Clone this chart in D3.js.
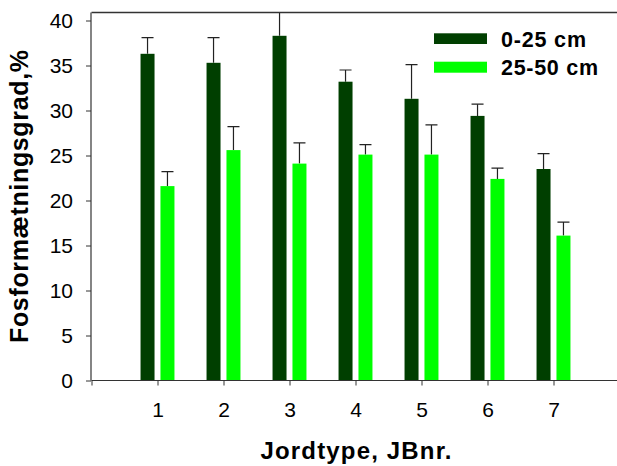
<!DOCTYPE html>
<html>
<head>
<meta charset="utf-8">
<script src="https://cdn.jsdelivr.net/npm/d3@7"></script>
<style>
  html, body { margin: 0; padding: 0; background: #fff; }
  svg { display: block; font-family: "Liberation Sans", Arial, sans-serif; }
</style>
</head>
<body>
<svg id="chart" width="617" height="466"></svg>
<script>
// Soil types (JB numbers) on the x axis
const soilTypes = [1, 2, 3, 4, 5, 6, 7];
// Phosphorus saturation degree (%) per depth layer, with standard error
const topsoil = [36.3, 35.3, 38.3, 33.2, 31.3, 29.4, 23.5];      // 0-25 cm
const topsoilErr = [1.8, 2.8, 3.2, 1.3, 3.8, 1.3, 1.7];
const subsoil = [21.6, 25.6, 24.1, 25.1, 25.1, 22.4, 16.1];      // 25-50 cm
const subsoilErr = [1.6, 2.6, 2.3, 1.1, 3.3, 1.2, 1.5];
const seriesNames = ["0-25 cm", "25-50 cm"];
const yTicks = [0, 5, 10, 15, 20, 25, 30, 35, 40];
const xTicks = [0, 1, 2, 3, 4, 5, 6, 7];

const colors = ["#003f00", "#00ff00"];
const svg = d3.select("#chart");

const x = d3.scaleLinear().domain([0, 8]).range([91.5, 619.5]);
const y = d3.scaleLinear().domain([0, 40]).range([380.5, 20.5]);
const yTop = 40.9;

const series = [
  { name: seriesNames[0], values: topsoil, err: topsoilErr, color: colors[0], offset: -0.257 },
  { name: seriesNames[1], values: subsoil, err: subsoilErr, color: colors[1], offset: 0.045 }
];
const barW = 0.212;

svg.append("defs").append("clipPath").attr("id", "plotClip")
  .append("rect")
  .attr("x", x(0)).attr("y", y(yTop))
  .attr("width", x(8) - x(0)).attr("height", y(0) - y(yTop));

const plot = svg.append("g").attr("clip-path", "url(#plotClip)");

series.forEach(s => {
  const g = plot.append("g");
  // error bars (upper side only)
  g.selectAll("line.err").data(soilTypes).join("line")
    .attr("class", "err")
    .attr("x1", d => x(d + s.offset + barW / 2))
    .attr("x2", d => x(d + s.offset + barW / 2))
    .attr("y1", (d, i) => y(s.values[i]))
    .attr("y2", (d, i) => y(s.values[i] + s.err[i]))
    .attr("stroke", "#222").attr("stroke-width", 1.2);
  g.selectAll("line.cap").data(soilTypes).join("line")
    .attr("class", "cap")
    .attr("x1", d => x(d + s.offset + barW / 2) - 6)
    .attr("x2", d => x(d + s.offset + barW / 2) + 6)
    .attr("y1", (d, i) => y(s.values[i] + s.err[i]))
    .attr("y2", (d, i) => y(s.values[i] + s.err[i]))
    .attr("stroke", "#222").attr("stroke-width", 1.2);
  g.selectAll("rect").data(soilTypes).join("rect")
    .attr("x", d => x(d + s.offset))
    .attr("width", d => x(d + s.offset + barW) - x(d + s.offset))
    .attr("y", (d, i) => y(s.values[i]))
    .attr("height", (d, i) => y(0) - y(s.values[i]))
    .attr("fill", s.color);
});

// top frame line
svg.append("line")
  .attr("x1", x(0)).attr("x2", x(8))
  .attr("y1", Math.round(y(yTop)) + 0.5).attr("y2", Math.round(y(yTop)) + 0.5)
  .attr("stroke", "#333").attr("stroke-width", 1.5);

// y axis
const yAxis = svg.append("g")
  .attr("transform", `translate(${x(0) - 0.5},0)`)
  .call(d3.axisLeft(y).tickValues(yTicks).tickSize(5).tickPadding(13).tickFormat(d3.format("d")));
yAxis.select(".domain").attr("d", `M0,${y(yTop)}V${y(0)}`);

// x axis
const xAxis = svg.append("g")
  .attr("transform", `translate(0,${y(0)})`)
  .call(d3.axisBottom(x).tickValues(xTicks).tickSize(5).tickPadding(17)
    .tickFormat(d => d === 0 ? "" : d));
xAxis.select(".domain").attr("d", `M${x(0)},0H${x(8)}`);

[yAxis, xAxis].forEach(a => {
  a.select(".domain").attr("stroke", "#333").attr("stroke-width", 1.2);
  a.selectAll(".tick line").attr("stroke", "#333");
  a.selectAll(".tick text").attr("font-size", 21).attr("fill", "#000")
    .attr("font-family", "Liberation Sans, Arial, sans-serif");
});

// axis titles
svg.append("text")
  .attr("transform", "translate(27.5,196.5) rotate(-90)")
  .attr("text-anchor", "middle")
  .attr("font-size", 25).attr("font-weight", "bold")
  .attr("textLength", 293).attr("lengthAdjust", "spacing")
  .text("Fosformætningsgrad,%");

svg.append("text")
  .attr("x", 356).attr("y", 459.3)
  .attr("text-anchor", "middle")
  .attr("font-size", 24).attr("font-weight", "bold")
  .attr("textLength", 191).attr("lengthAdjust", "spacing")
  .text("Jordtype, JBnr.");

// legend
const legend = svg.append("g");
const legendRows = [
  { y: 33.3, h: 10.7, base: 46.8, len: 85 },
  { y: 61.7, h: 11, base: 75.2, len: 97 }
];
series.forEach((s, i) => {
  const r = legendRows[i];
  legend.append("rect")
    .attr("x", 434).attr("y", r.y).attr("width", 53).attr("height", r.h)
    .attr("fill", s.color);
  legend.append("text")
    .attr("x", 501).attr("y", r.base)
    .attr("font-size", 21.5).attr("font-weight", "bold")
    .attr("textLength", r.len).attr("lengthAdjust", "spacing")
    .text(s.name);
});
</script>
</body>
</html>
